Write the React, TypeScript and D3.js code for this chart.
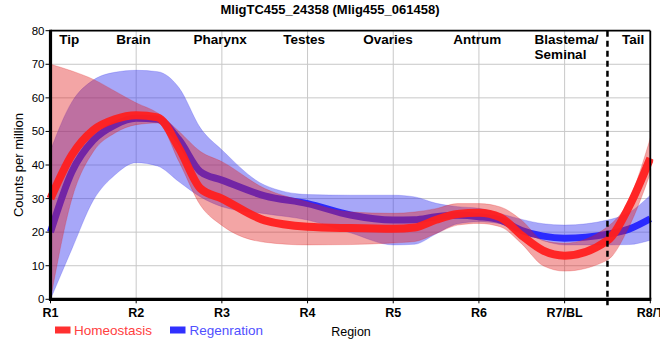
import React from 'react';
import * as d3 from 'd3';

// region positions (R1 = 1 ... R8 = 8) at which values were read
const positions = [1, 1.25, 1.5, 1.75, 2, 2.25, 2.5, 2.75, 3, 3.5, 4, 4.5, 5, 5.25, 5.5, 5.75, 6, 6.25, 6.5, 6.75, 7, 7.5, 7.75, 8];

const homeoMean = [30, 43, 50.4, 53.6, 54.8, 54.2, 45, 33, 30, 23.5, 21.6, 21.2, 21, 21.4, 23.7, 25.4, 25.8, 24.4, 19, 14.5, 13, 17.5, 27.5, 42];
const homeoUpper = [70, 68, 65.5, 62, 58.5, 55.5, 50, 44, 41, 33, 29, 26, 25.6, 26, 27, 28.5, 28.5, 27.5, 23.5, 17.5, 16.7, 21.6, 29.5, 48];
const homeoLower = [0, 30, 44, 49.5, 52, 52.5, 41, 28, 22, 17, 16.2, 16.3, 16.8, 17.2, 19.6, 22.1, 22.6, 21.6, 16.5, 10, 8.4, 11.7, 21.5, 37.5];

const regenMean = [20, 38, 47.4, 51.9, 53.9, 53.6, 47.5, 38, 35.5, 30.8, 28.5, 25.1, 23.6, 23.7, 24.6, 25, 24.6, 23.6, 20.5, 18.8, 18.2, 19.4, 20.9, 24];
const regenUpper = [44.4, 58.8, 65.3, 67.6, 68.2, 67.8, 63, 51, 44.5, 34, 31.2, 31, 31, 30.5, 28.6, 27.6, 27.1, 25.5, 23.8, 22.5, 22.1, 23.6, 25.8, 31];
const regenLower = [0, 15, 29.5, 37, 40.7, 39.7, 35, 30.5, 27.6, 25.5, 23.6, 19.8, 16.2, 16.4, 19.5, 22.5, 23.1, 22.5, 20.3, 17.5, 16.2, 16.2, 16.3, 17.6];

const xTickLabels = ['R1', 'R2', 'R3', 'R4', 'R5', 'R6', 'R7/BL', 'R8/T'];
const yTicks = [0, 10, 20, 30, 40, 50, 60, 70, 80];

const regionNames = [['Tip'], ['Brain'], ['Pharynx'], ['Testes'], ['Ovaries'], ['Antrum'], ['Blastema/', 'Seminal'], ['Tail']];
const regionPos = [1.22, 1.97, 2.98, 3.96, 4.94, 5.98, 6.65, 7.8];

const tailBoundary = 7.5;

const FONT = 'Liberation Sans, Arial, sans-serif';

const App = () => {
  const width = 660;
  const height = 360;

  const x = d3.scaleLinear().domain([1, 8]).range([50.5, 650.3]);
  const y = d3.scaleLinear().domain([0, 80]).range([299.3, 30.7]);

  const idx = positions.map((_, i) => i);

  const line = (vals: number[]) =>
    d3.line<number>()
      .x(i => x(positions[i]))
      .y(i => y(vals[i]))
      .curve(d3.curveMonotoneX)(idx) || '';

  const band = (lo: number[], hi: number[]) =>
    d3.area<number>()
      .x(i => x(positions[i]))
      .y0(i => y(lo[i]))
      .y1(i => y(hi[i]))
      .curve(d3.curveMonotoneX)(idx) || '';

  const [x0, x1] = x.range();
  const [yb, yt] = y.range();

  return (
    <svg width={width} height={height} style={{ position: 'absolute', left: 0, top: 0, background: 'white' }} fontFamily={FONT}>
      <defs>
        <clipPath id="plot">
          <rect x={x0 - 4} y={yt} width={x1 - x0 + 7} height={yb - yt} />
        </clipPath>
      </defs>

      <text x={330} y={13.5} textAnchor="middle" fontSize={13} fontWeight="bold">
        MligTC455_24358 (Mlig455_061458)
      </text>

      {/* grid */}
      <g stroke="#c8c8c8" strokeWidth={1}>
        {yTicks.map(t => (
          <line key={'h' + t} x1={x0} x2={x1} y1={y(t)} y2={y(t)} />
        ))}
        {xTickLabels.map((_, i) => (
          <line key={'v' + i} x1={x(i + 1)} x2={x(i + 1)} y1={yt} y2={yb} />
        ))}
      </g>

      {/* bands and lines */}
      <g clipPath="url(#plot)">
        <path d={band(regenLower, regenUpper)} fill="rgb(60,60,240)" fillOpacity={0.45} stroke="rgb(60,60,240)" strokeOpacity={0.3} strokeWidth={0.8} />
        <path d={line(regenMean)} fill="none" stroke="#2a2aff" strokeWidth={7} />
        <path d={band(homeoLower, homeoUpper)} fill="rgb(225,30,30)" fillOpacity={0.4} stroke="rgb(225,30,30)" strokeOpacity={0.3} strokeWidth={0.8} />
        <path d={line(homeoMean)} fill="none" stroke="#ff1f1f" strokeOpacity={0.95} strokeWidth={8} />
      </g>

      {/* frame */}
      <line x1={x0} x2={x1} y1={yt} y2={yt} stroke="black" strokeWidth={1.8} />
      <line x1={x1} x2={x1} y1={yt} y2={yb} stroke="black" strokeWidth={1.8} />
      <line x1={x0} x2={x0} y1={yt - 1} y2={yb + 1.5} stroke="black" strokeWidth={3.2} />
      <line x1={x0 - 1.5} x2={x1 + 1} y1={yb} y2={yb} stroke="black" strokeWidth={3.2} />

      {/* tail boundary */}
      <line x1={x(tailBoundary)} x2={x(tailBoundary)} y1={yt} y2={yb + 6} stroke="black" strokeWidth={2.5} strokeDasharray="6,4" />

      {/* y axis */}
      {yTicks.map(t => (
        <g key={'yt' + t}>
          <line x1={x0 - 5} x2={x0} y1={y(t)} y2={y(t)} stroke="black" strokeWidth={1} />
          <text x={x0 - 6} y={y(t) + 4} textAnchor="end" fontSize={11.5}>{t}</text>
        </g>
      ))}
      <text transform={`translate(23,${(yt + yb) / 2}) rotate(-90)`} textAnchor="middle" fontSize={13}>
        Counts per million
      </text>

      {/* x axis */}
      {xTickLabels.map((lab, i) => (
        <g key={lab}>
          <line x1={x(i + 1)} x2={x(i + 1)} y1={yb} y2={yb + 4} stroke="black" strokeWidth={1} />
          <text x={x(i + 1)} y={317} textAnchor="middle" fontSize={12.5} fontWeight="bold">{lab}</text>
        </g>
      ))}

      {/* region names */}
      {regionNames.map((lines, i) => (
        <text key={lines[0]} x={x(regionPos[i])} y={44} textAnchor={lines.length > 1 ? 'start' : 'middle'} fontSize={13.5} fontWeight="bold">
          {lines.map((l, j) => (
            <tspan key={l} x={x(regionPos[i])} dy={j === 0 ? 0 : 15}>{l}</tspan>
          ))}
        </text>
      ))}

      {/* legend */}
      <rect x={55} y={326.5} width={15.5} height={7} fill="#ff3030" />
      <text x={74} y={334.5} fontSize={13.5} fill="#ff4040">Homeostasis</text>
      <rect x={170} y={326.5} width={15.5} height={7} fill="#3030ff" />
      <text x={189.5} y={334.5} fontSize={13.5} fill="#5050ff">Regenration</text>
      <text x={351} y={336} textAnchor="middle" fontSize={12.5}>Region</text>
    </svg>
  );
};

export default App;
